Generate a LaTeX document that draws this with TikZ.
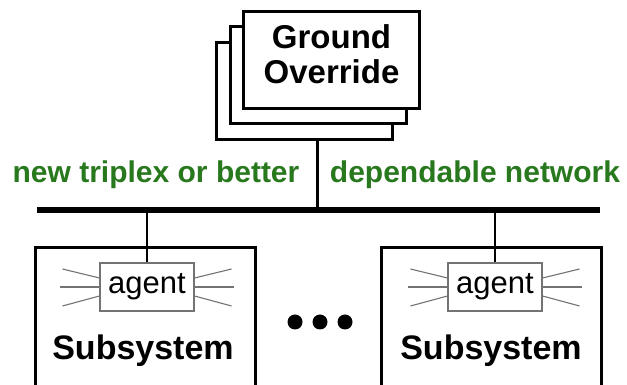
\documentclass[tikz,border=0pt]{standalone}
\usepackage{fontspec}
\setmainfont{Liberation Sans}
\usepackage{tikz}
\usetikzlibrary{positioning}
\definecolor{netgreen}{RGB}{40,120,30}

\begin{document}
\begin{tikzpicture}[x=1pt,y=1pt]
  \tikzstyle{gbox}=[draw,fill=white,line width=3pt,minimum width=176pt,minimum height=97pt,inner sep=0pt]
  \tikzstyle{subbox}=[draw,fill=white,line width=3pt,minimum width=220pt,minimum height=144pt,inner sep=0pt]
  \tikzstyle{agentbox}=[draw=black!55,fill=white,line width=1.1pt,minimum width=94pt,minimum height=48pt,inner sep=0pt,font=\fontsize{31}{31}\selectfont]
  \tikzstyle{ray}=[black!55,line width=1.1pt]
  \tikzstyle{lbl}=[anchor=base,text=netgreen,font=\fontsize{30}{30}\selectfont\bfseries,inner sep=0pt]

  \useasboundingbox (0,0) rectangle (627,385);

  % ground override stack
  \node[gbox] (g3) at (304.5,294) {};
  \node[gbox] (g2) at (318,309.5) {};
  \node[gbox] (g1) at (331.5,325) {};
  \node[align=center,font=\fontsize{33}{35}\selectfont\bfseries,inner sep=0pt] (gtxt) at (331.5,331) {Ground\\Override};

  % network bus
  \coordinate (busL) at (37,175);
  \coordinate (busR) at (600,175);
  \coordinate (busM) at (317,175);
  \draw[line width=6pt] (busL) -- (busR);
  \draw[line width=3pt] (g3.south -| busM) -- (busM);

  \node[lbl] (netA) at (156,202) {new triplex or better};
  \node[lbl] (netB) at (475,202) {dependable network};

  % subsystems
  \node[subbox] (subL) at (145.5,65) {};
  \node[subbox] (subR) at (491,65) {};
  \node[anchor=base,font=\fontsize{34}{34}\selectfont\bfseries,inner sep=0pt] (txtL) at (143,25) {Subsystem};
  \node[anchor=base,font=\fontsize{34}{34}\selectfont\bfseries,inner sep=0pt] (txtR) at (491,25) {Subsystem};

  \node[agentbox] (agL) at (147,98) {agent};
  \node[agentbox] (agR) at (495,98) {agent};

  \draw[line width=2pt] (agL.north |- busL) -- (agL.north);
  \draw[line width=2pt] (agR.north |- busL) -- (agR.north);

  \foreach \a in {agL,agR} {
    \draw[ray] ([yshift=9pt]\a.west) -- ++(-37,9);
    \draw[ray] (\a.west) -- ++(-39,0);
    \draw[ray] ([yshift=-9pt]\a.west) -- ++(-37,-10);
    \draw[ray] ([yshift=9pt]\a.east) -- ++(37,9);
    \draw[ray] (\a.east) -- ++(39,0);
    \draw[ray] ([yshift=-9pt]\a.east) -- ++(37,-10);
  }

  % ellipsis
  \foreach \x/\n in {295/d1,320/d2,345/d3}
    \fill (\x,63) circle (7.5pt);
\end{tikzpicture}
\end{document}
